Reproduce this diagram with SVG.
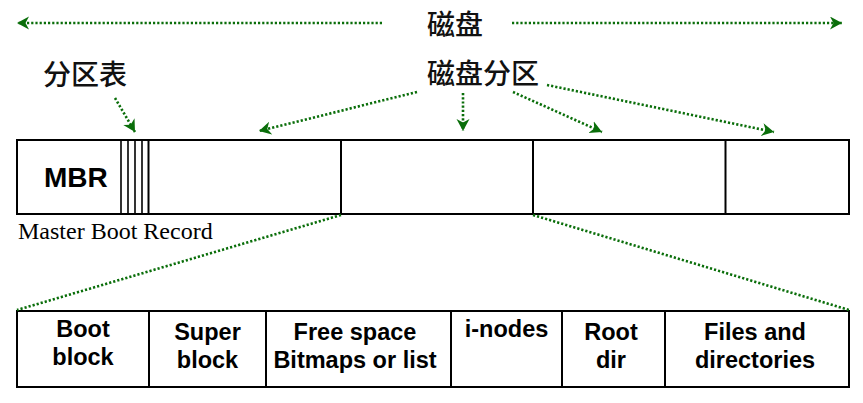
<svg xmlns="http://www.w3.org/2000/svg" width="863" height="403" viewBox="0 0 863 403">
<style>
.box{fill:#fff;stroke:#000;stroke-width:2}
.ln{stroke:#000;stroke-width:2;fill:none}
.thin{stroke:#000;stroke-width:1.6;fill:none}
.dot{stroke:#0a6e0a;stroke-width:2.6;stroke-dasharray:2.2 2;fill:none}
.arr{marker-end:url(#ah)}
.cjk{font-family:"Noto Sans CJK SC","Noto Sans",sans-serif;font-size:28px;font-weight:500;fill:#111}
.lbl{font-family:"Liberation Sans",Arial,sans-serif;font-weight:bold;font-size:23.5px;fill:#000;text-anchor:middle}
.ser{font-family:"Liberation Serif","Times New Roman",serif;font-size:24px;fill:#000}
</style>
<defs>
<marker id="ah" markerUnits="userSpaceOnUse" markerWidth="14" markerHeight="14" refX="12" refY="6.5" orient="auto">
<path d="M0,0 L12,6.5 L0,13 L3.5,6.5 z" fill="#0a6e0a"/>
</marker>
</defs>
<rect width="863" height="403" fill="#fff"/>

<g id="labels">
<text id="disk" class="cjk" x="427" y="35">磁盘</text>
<text id="partitions" class="cjk" x="427" y="84">磁盘分区</text>
<text id="ptable" class="cjk" x="43" y="85">分区表</text>
</g>

<g id="disk-bar">
<rect class="box" x="17" y="140" width="832" height="74"/>
<line class="thin" x1="121" y1="140" x2="121" y2="214"/>
<line class="thin" x1="128" y1="140" x2="128" y2="214"/>
<line class="thin" x1="135" y1="140" x2="135" y2="214"/>
<line class="thin" x1="142" y1="140" x2="142" y2="214"/>
<line class="ln" x1="148.5" y1="140" x2="148.5" y2="214"/>
<line class="ln" x1="341" y1="140" x2="341" y2="214"/>
<line class="ln" x1="533" y1="140" x2="533" y2="214"/>
<line class="ln" x1="725.5" y1="140" x2="725.5" y2="214"/>
<text x="44" y="187" font-family="Liberation Sans,Arial,sans-serif" font-weight="bold" font-size="28">MBR</text>
<text class="ser" x="18" y="239">Master Boot Record</text>
</g>

<g id="fs-bar">
<rect class="box" x="17" y="311" width="832" height="76"/>
<line class="ln" x1="149" y1="311" x2="149" y2="387"/>
<line class="ln" x1="266" y1="311" x2="266" y2="387"/>
<line class="ln" x1="451" y1="311" x2="451" y2="387"/>
<line class="ln" x1="562" y1="311" x2="562" y2="387"/>
<line class="ln" x1="665" y1="311" x2="665" y2="387"/>
</g>
<g id="boot-block"><text class="lbl" x="83" y="337">Boot</text><text class="lbl" x="83" y="365">block</text></g>
<g id="super-block"><text class="lbl" x="207.5" y="340">Super</text><text class="lbl" x="207.5" y="368">block</text></g>
<g id="free-space"><text class="lbl" x="355" y="340">Free space</text><text class="lbl" x="355" y="368">Bitmaps or list</text></g>
<g id="inodes"><text class="lbl" x="506.5" y="337">i-nodes</text></g>
<g id="root-dir"><text class="lbl" x="611" y="340">Root</text><text class="lbl" x="611" y="368">dir</text></g>
<g id="files-dirs"><text class="lbl" x="755" y="340">Files and</text><text class="lbl" x="755" y="368">directories</text></g>

<g id="connectors">
<line class="dot arr" x1="382" y1="23" x2="17" y2="23"/>
<line class="dot arr" x1="512" y1="23" x2="842" y2="23"/>
<line class="dot arr" x1="115" y1="98" x2="135" y2="132"/>
<line class="dot arr" x1="417" y1="92" x2="259" y2="131"/>
<line class="dot arr" x1="463" y1="93" x2="463" y2="131"/>
<line class="dot arr" x1="513" y1="92" x2="602" y2="132"/>
<line class="dot arr" x1="547" y1="85" x2="774" y2="132"/>
<line class="dot" x1="341" y1="215" x2="17" y2="310"/>
<line class="dot" x1="533" y1="215" x2="849" y2="310"/>
</g>
</svg>
